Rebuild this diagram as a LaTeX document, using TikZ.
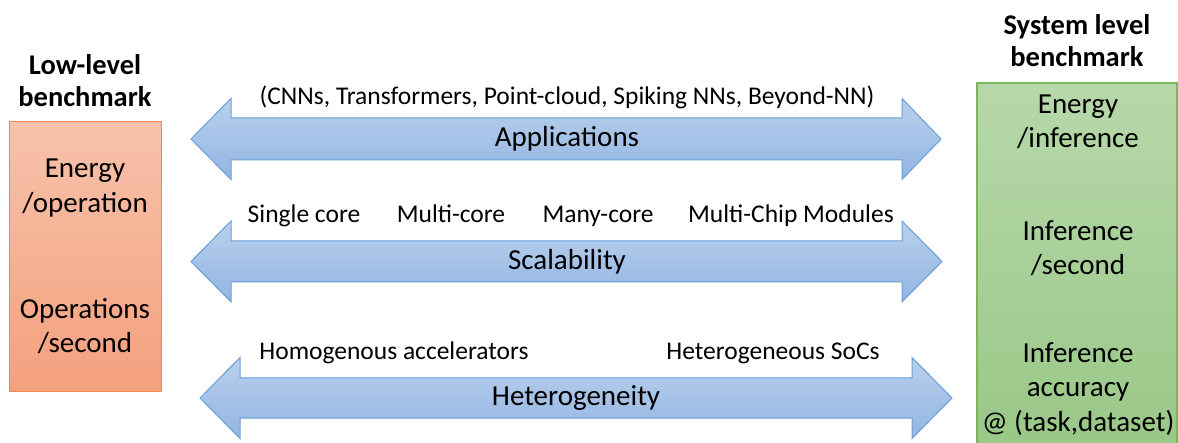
\documentclass[tikz,border=0pt]{standalone}
\usepackage{fontspec}
\setmainfont{Carlito}
\definecolor{arrowline}{HTML}{6A9FD8}
\definecolor{arrowtop}{HTML}{B9D0EC}
\definecolor{arrowbot}{HTML}{92B5E2}
\definecolor{lowline}{HTML}{ED8A4E}
\definecolor{lowtop}{HTML}{F7C2AB}
\definecolor{lowbot}{HTML}{F4A07D}
\definecolor{sysline}{HTML}{7DB55A}
\definecolor{systop}{HTML}{B7D8AA}
\definecolor{sysbot}{HTML}{98C786}
\tikzset{
  arr/.style={draw=arrowline, line width=1pt, top color=arrowtop, bottom color=arrowbot, line join=miter},
  txt/.style={font=\fontsize{29}{34.5}\selectfont, align=center, inner sep=0pt},
  lbl/.style={font=\fontsize{29}{34}\selectfont, inner sep=0pt},
  sub/.style={font=\fontsize{25.5}{30}\selectfont, inner sep=0pt, anchor=base},
  hdr/.style={font=\bfseries\fontsize{28.5}{32}\selectfont, align=center, inner sep=0pt},
  lowbox/.style={draw=lowline, line width=1pt, top color=lowtop, bottom color=lowbot, inner sep=0pt},
  sysbox/.style={draw=sysline, line width=1.2pt, top color=systop, bottom color=sysbot, inner sep=0pt},
}
% #1 left tip, #2 left head base, #3 right head base, #4 right tip, #5 centre y, #6 shaft half, #7 head half
\newcommand\benchArrow[7]{%
  \path[arr] (#1,-#5) -- (#2,-#5+#7) -- (#2,-#5+#6) -- (#3,-#5+#6) -- (#3,-#5+#7)
    -- (#4,-#5) -- (#3,-#5-#7) -- (#3,-#5-#6) -- (#2,-#5-#6) -- (#2,-#5-#7) -- cycle;}
\begin{document}
\begin{tikzpicture}[x=1pt,y=1pt]
\clip (0,0) rectangle (1178,-443);
\useasboundingbox (0,0) rectangle (1178,-443);

% boxes
\node[lowbox, minimum width=152pt, minimum height=270pt] (lowb) at (85,-257) {};
\node[sysbox, minimum width=200pt, minimum height=380pt] (sysb) at (1077,-273) {};

% headers
\node[hdr] (lowh) at (85,-81) {Low-level\\benchmark};
\node[hdr] (sysh) at (1077,-41) {System level\\benchmark};

% left box text
\node[txt] (l1) at (85,-188) {Energy\\/operation};
\node[txt] (l2) at (85,-326) {Operations\\/second};

% right box text
\node[txt] (r1) at (1078,-122) {Energy\\/inference};
\node[txt] (r2) at (1078,-248) {Inference\\/second};
\node[txt] (r3) at (1078,-389) {Inference\\accuracy\\@ (task,dataset)};

% arrows
\benchArrow{191}{231}{902}{941}{139}{21}{40.5}
\benchArrow{191}{231}{902}{942}{261.5}{20.5}{40.5}
\benchArrow{200}{240}{912}{952}{398}{20}{40.5}

% arrow labels
\node[lbl] (app) at (567,-139) {Applications};
\node[lbl] (sca) at (567,-262) {Scalability};
\node[lbl] (het) at (576,-398) {Heterogeneity};

% sub labels
\node[sub] (appsub) at (567,-104.5) {(CNNs, Transformers, Point-cloud, Spiking NNs, Beyond-NN)};
\node[sub] (s1) at (304,-223) {Single core};
\node[sub] (s2) at (451,-223) {Multi-core};
\node[sub] (s3) at (598,-223) {Many-core};
\node[sub] (s4) at (791,-223) {Multi-Chip Modules};
\node[sub] (h1) at (394,-360) {Homogenous accelerators};
\node[sub] (h2) at (773,-360) {Heterogeneous SoCs};
\end{tikzpicture}
\end{document}
